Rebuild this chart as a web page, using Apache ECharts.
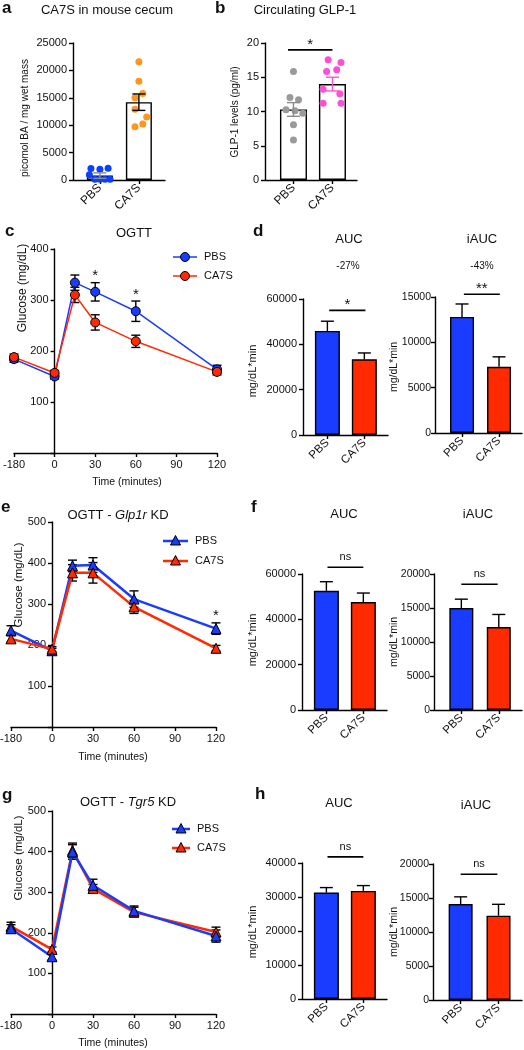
<!DOCTYPE html>
<html><head><meta charset="utf-8">
<script src="https://cdn.jsdelivr.net/npm/echarts@6/dist/echarts.min.js"></script>
<style>html,body{margin:0;padding:0;background:#fff}#chart{width:524px;height:1050px}</style>
</head><body><div id="chart"></div>
<script>
// ---------------- data ----------------
const groups = ['PBS', 'CA7S'];
const times = [-180, 0, 15, 30, 60, 120];
const timeTickLabels = {'-30': '-180', '0': '0', '30': '30', '60': '60', '90': '90', '120': '120'};

// a: CA7S in mouse cecum
const aPBS = [2100, 1950, 2150, 950, 120, 120, 120, 120];
const aCA7S = [21600, 18000, 15800, 15000, 12900, 11500, 10200, 9700];
const aMean = [800, 14200];
const aSem = [500, 1500];
const aJitterPBS = [-0.23, 0.0, 0.21, -0.27, -0.13, 0.0, 0.13, 0.26];
const aJitterCA7S = [0, 0, 0.1, -0.1, -0.1, 0.2, 0.1, -0.1];

// b: circulating GLP-1
const bPBS = [15.85, 12.05, 11.7, 10.25, 10.1, 9.75, 8.05, 5.85];
const bCA7S = [17.55, 17.15, 16.1, 15.85, 13.25, 12.6, 11.2, 11.2];
const bMean = [10.3, 14.0];
const bSem = [1.0, 1.0];
const bJitterPBS = [0, -0.09, 0.13, -0.19, 0.04, 0.24, 0, 0];
const bJitterCA7S = [-0.11, 0.22, 0.11, -0.15, -0.24, 0.19, -0.24, 0.22];

// c: OGTT
const cPBS = [184, 150, 334, 316, 278, 164];
const cPBSsem = [6, 5, 15, 18, 20, 8];
const cCA7S = [188, 157, 310, 256, 219, 159];
const cCA7Ssem = [6, 5, 15, 15, 12, 6];

// d: AUC / iAUC
const dAUC = [45900, 33400];
const dAUCsem = [4300, 2800];
const dIAUC = [12800, 7300];
const dIAUCsem = [1430, 1100];

// e: OGTT - Glp1r KD
const ePBS = [235, 186, 393, 395, 312, 240];
const ePBSsem = [12, 6, 14, 18, 20, 14];
const eCA7S = [215, 190, 376, 376, 293, 192];
const eCA7Ssem = [8, 6, 20, 25, 16, 7];

// f: AUC / iAUC
const fAUC = [52600, 47600];
const fAUCsem = [4000, 4000];
const fIAUC = [15000, 12200];
const fIAUCsem = [1300, 1850];

// g: OGTT - Tgr5 KD
const gPBS = [210, 141, 399, 317, 254, 192];
const gPBSsem = [10, 8, 18, 15, 12, 15];
const gCA7S = [216, 159, 403, 309, 251, 202];
const gCA7Ssem = [10, 6, 18, 10, 12, 12];

// h: AUC / iAUC
const hAUC = [31300, 31800];
const hAUCsem = [1470, 1560];
const hIAUC = [14100, 12400];
const hIAUCsem = [1070, 1670];

// ---------------- styles ----------------
const FONT = '"Liberation Sans", Arial, Helvetica, sans-serif';
const TXT = '#111';
const BLUE = '#1a3cff', RED = '#ff2a00';
const DOT_BLUE = '#0a40ff', DOT_ORANGE = '#ff961e', DOT_GREY = '#9a9a9a', DOT_PINK = '#ff4fd6';
const AXW = 1.4;

// axis-break: -180 is drawn one step (30) left of 0
const tx = t => (t < 0 ? -30 : t);
const T_MIN = -30, T_MAX = 120;

const grids = [
  {left: 73, top: 43, width: 92, height: 137},    // 0 a
  {left: 265, top: 43, width: 92, height: 137},   // 1 b
  {left: 14, top: 249, width: 203, height: 204},  // 2 c
  {left: 303, top: 299, width: 85, height: 136},  // 3 d AUC
  {left: 435, top: 297, width: 87, height: 136},  // 4 d iAUC
  {left: 11, top: 522, width: 205, height: 205},  // 5 e
  {left: 302, top: 574, width: 85, height: 136},  // 6 f AUC
  {left: 434, top: 574, width: 88, height: 136},  // 7 f iAUC
  {left: 11, top: 811, width: 205, height: 203},  // 8 g
  {left: 302, top: 863, width: 85, height: 136},  // 9 h AUC
  {left: 433, top: 864, width: 89, height: 136}   // 10 h iAUC
].map(gr => Object.assign({outerBoundsMode: 'none', containLabel: false}, gr));

function yAxis(gi, max, interval, timePanel, fs) {
  return {
    type: 'value', gridIndex: gi, min: 0, max: max, interval: interval,
    // time panels: the y axis sits at t = 0 (one step right of the -180 break)
    offset: timePanel ? -grids[gi].width * (0 - T_MIN) / (T_MAX - T_MIN) : 0,
    axisLine: {show: true, onZero: false, lineStyle: {color: '#000', width: AXW}},
    axisTick: {show: true, length: 4, lineStyle: {color: '#000', width: AXW}},
    axisLabel: {fontSize: fs || 11, color: TXT, fontFamily: FONT, margin: fs ? 4 : 6,
      formatter: v => (timePanel && v === 0 ? '' : String(v))},
    splitLine: {show: false}
  };
}
function catXAxis(gi, min, max, fs) {
  return {
    type: 'value', gridIndex: gi, min: min, max: max,
    axisLine: {show: true, onZero: false, lineStyle: {color: '#000', width: AXW}},
    axisTick: {show: true, customValues: [0, 1], length: 4, lineStyle: {color: '#000', width: AXW}},
    axisLabel: {show: true, customValues: [0, 1], rotate: 45, margin: 6, fontSize: fs || 11.5,
      color: TXT, fontFamily: FONT, formatter: v => groups[Math.round(v)]},
    splitLine: {show: false}
  };
}
function timeXAxis(gi) {
  return {
    type: 'value', gridIndex: gi, min: T_MIN, max: T_MAX, interval: 30,
    axisLine: {show: true, onZero: false, lineStyle: {color: '#000', width: AXW}},
    axisTick: {show: true, length: 4, lineStyle: {color: '#000', width: AXW}},
    axisLabel: {fontSize: 11, color: TXT, fontFamily: FONT, margin: 6,
      formatter: v => timeTickLabels[String(v)]},
    splitLine: {show: false}
  };
}
function errSeries(gi, xs, means, sems, cfg) {
  return {
    type: 'custom', xAxisIndex: gi, yAxisIndex: gi, z: cfg.z || 5, silent: true, clip: false,
    data: means.map((m, i) => [xs[i], m, sems[i]]),
    renderItem: (params, api) => {
      const x = api.value(0), m = api.value(1), e = api.value(2);
      const top = api.coord([x, m + e]);
      const bot = api.coord([x, cfg.oneSided ? m : m - e]);
      const hw = cfg.cap / 2;
      const col = Array.isArray(cfg.color) ? cfg.color[params.dataIndex] : cfg.color;
      const st = {stroke: col, lineWidth: cfg.width || 1.4};
      const ch = [
        {type: 'line', shape: {x1: top[0], y1: top[1], x2: bot[0], y2: bot[1]}, style: st},
        {type: 'line', shape: {x1: top[0] - hw, y1: top[1], x2: top[0] + hw, y2: top[1]}, style: st}
      ];
      if (!cfg.oneSided) ch.push({type: 'line', shape: {x1: bot[0] - hw, y1: bot[1], x2: bot[0] + hw, y2: bot[1]}, style: st});
      return {type: 'group', children: ch};
    }
  };
}
function barSeries(gi, means, colors, width) {
  return {
    type: 'bar', xAxisIndex: gi, yAxisIndex: gi, barWidth: width, z: 2,
    data: means.map((m, i) => ({value: [i, m], itemStyle: {color: colors[i]}})),
    itemStyle: {borderColor: '#000', borderWidth: 1.4}
  };
}
function dots(gi, cat, vals, jit, color) {
  return {
    type: 'scatter', xAxisIndex: gi, yAxisIndex: gi, symbolSize: 7, z: 4,
    itemStyle: {color: color, opacity: 1},
    data: vals.map((v, i) => [cat + jit[i], v])
  };
}
function lineSeries(gi, name, vals, color, symbol, size, lw) {
  return {
    type: 'line', name: name, xAxisIndex: gi, yAxisIndex: gi, z: 6,
    symbol: symbol, symbolSize: size, showAllSymbol: true,
    lineStyle: {color: color, width: lw},
    itemStyle: {color: color, borderColor: '#000', borderWidth: 1},
    data: times.map((t, i) => [tx(t), vals[i]])
  };
}
const timeX = times.map(tx);
const catIdx = [0, 1];

const xAxes = [
  catXAxis(0, -0.69, 1.67, 12),
  catXAxis(1, -0.73, 1.63, 12),
  timeXAxis(2),
  catXAxis(3, -0.66, 1.64),
  catXAxis(4, -0.73, 1.62),
  timeXAxis(5),
  catXAxis(6, -0.66, 1.64),
  catXAxis(7, -0.73, 1.62),
  timeXAxis(8),
  catXAxis(9, -0.66, 1.64),
  catXAxis(10, -0.73, 1.62)
];
const yAxes = [
  yAxis(0, 25000, 5000, false),
  yAxis(1, 20, 5, false),
  yAxis(2, 400, 100, true),
  yAxis(3, 60000, 20000, false),
  yAxis(4, 15000, 5000, false, 10.5),
  yAxis(5, 500, 100, true),
  yAxis(6, 60000, 20000, false),
  yAxis(7, 20000, 5000, false, 10.5),
  yAxis(8, 500, 100, true),
  yAxis(9, 40000, 10000, false),
  yAxis(10, 20000, 5000, false, 10.5)
];

const series = [
  // a
  barSeries(0, aMean, ['#fff', '#fff'], 26),
  dots(0, 0, aPBS, aJitterPBS, DOT_BLUE),
  dots(0, 1, aCA7S, aJitterCA7S, DOT_ORANGE),
  errSeries(0, catIdx, aMean, aSem, {cap: 13, color: ['#8a8a8a', '#000'], z: 6}),
  // b
  barSeries(1, bMean, ['#fff', '#fff'], 27),
  dots(1, 0, bPBS, bJitterPBS, DOT_GREY),
  dots(1, 1, bCA7S, bJitterCA7S, DOT_PINK),
  errSeries(1, catIdx, bMean, bSem, {cap: 13, color: ['#8a8a8a', DOT_PINK], z: 6}),
  // c
  errSeries(2, timeX, cPBS, cPBSsem, {cap: 9, color: '#000', z: 5}),
  errSeries(2, timeX, cCA7S, cCA7Ssem, {cap: 9, color: '#000', z: 5}),
  lineSeries(2, 'PBS', cPBS, BLUE, 'circle', 9, 1.5),
  lineSeries(2, 'CA7S', cCA7S, RED, 'circle', 9, 1.5),
  // d
  barSeries(3, dAUC, [BLUE, RED], 25),
  errSeries(3, catIdx, dAUC, dAUCsem, {cap: 13, color: '#000', oneSided: true}),
  barSeries(4, dIAUC, [BLUE, RED], 24),
  errSeries(4, catIdx, dIAUC, dIAUCsem, {cap: 13, color: '#000', oneSided: true}),
  // e
  errSeries(5, timeX, ePBS, ePBSsem, {cap: 9, color: '#000', z: 5}),
  errSeries(5, timeX, eCA7S, eCA7Ssem, {cap: 9, color: '#000', z: 5}),
  lineSeries(5, 'PBS', ePBS, BLUE, 'triangle', 10, 2.5),
  lineSeries(5, 'CA7S', eCA7S, RED, 'triangle', 10, 2.5),
  // f
  barSeries(6, fAUC, [BLUE, RED], 25),
  errSeries(6, catIdx, fAUC, fAUCsem, {cap: 13, color: '#000', oneSided: true}),
  barSeries(7, fIAUC, [BLUE, RED], 24),
  errSeries(7, catIdx, fIAUC, fIAUCsem, {cap: 13, color: '#000', oneSided: true}),
  // g
  errSeries(8, timeX, gPBS, gPBSsem, {cap: 9, color: '#000', z: 5}),
  errSeries(8, timeX, gCA7S, gCA7Ssem, {cap: 9, color: '#000', z: 5}),
  lineSeries(8, 'CA7S', gCA7S, RED, 'triangle', 10, 2.5),
  lineSeries(8, 'PBS', gPBS, BLUE, 'triangle', 10, 2.5),
  // h
  barSeries(9, hAUC, [BLUE, RED], 25),
  errSeries(9, catIdx, hAUC, hAUCsem, {cap: 13, color: '#000', oneSided: true}),
  barSeries(10, hIAUC, [BLUE, RED], 24),
  errSeries(10, catIdx, hIAUC, hIAUCsem, {cap: 13, color: '#000', oneSided: true})
];

const chart = echarts.init(document.getElementById('chart'), null, {renderer: 'canvas'});
chart.setOption({
  animation: false,
  backgroundColor: '#fff',
  textStyle: {fontFamily: FONT},
  grid: grids, xAxis: xAxes, yAxis: yAxes, series: series
});

// ---------------- annotations ----------------
const g = [];
function txt(text, x, y, fs, opts) {
  opts = opts || {};
  g.push({type: 'text', x: x, y: y, rotation: opts.rot || 0, z: 50,
    style: {text: text, fontSize: fs, fontFamily: FONT, fill: TXT,
      fontWeight: opts.bold ? 'bold' : 'normal',
      align: opts.align || 'center', verticalAlign: 'middle', rich: opts.rich}});
}
// panel letters
[['a', 2, 8], ['b', 215, 8], ['c', 5, 231], ['d', 253, 231], ['e', 1, 507], ['f', 251, 507], ['g', 2, 795], ['h', 255, 794]]
  .forEach(l => txt(l[0], l[1], l[2], 17, {bold: true, align: 'left'}));
// titles
txt('CA7S in mouse cecum', 107, 10, 13);
txt('Circulating GLP-1', 305, 10, 13);
txt('OGTT', 134, 233, 13);
txt('AUC', 349, 239, 13);
txt('iAUC', 482, 239, 13);
txt('-27%', 348, 266, 10);
txt('-43%', 482, 266, 10);
const rich = {n: {fontSize: 13, fontFamily: FONT, fill: TXT}, i: {fontSize: 13, fontFamily: FONT, fontStyle: 'italic', fill: TXT}};
txt('{n|OGTT - }{i|Glp1r}{n| KD}', 118, 515, 13, {rich: rich});
txt('AUC', 344, 514, 13);
txt('iAUC', 478, 514, 13);
txt('{n|OGTT - }{i|Tgr5}{n| KD}', 128, 802, 13, {rich: rich});
txt('AUC', 339, 803, 13);
txt('iAUC', 476, 805, 13);
// axis names
const R = Math.PI / 2;
[['picomol BA / mg wet mass', 25, 118, 10], ['GLP-1 levels (pg/ml)', 235, 112, 10],
 ['Glucose (mg/dL)', 23, 288, 12], ['mg/dL*min', 253, 371, 11], ['mg/dL*min', 394, 367, 10.5],
 ['Glucose (mg/dL)', 19, 585, 11.5], ['mg/dL*min', 253, 640, 11], ['mg/dL*min', 394, 642, 10.5],
 ['Glucose (mg/dL)', 19, 858, 11.5], ['mg/dL*min', 253, 932, 11], ['mg/dL*min', 394, 932, 10.5]]
  .forEach(n => txt(n[0], n[1], n[2], n[3], {rot: R}));
txt('Time (minutes)', 127, 482, 10.5);
txt('Time (minutes)', 113, 757, 10.5);
txt('Time (minutes)', 113, 1043, 10.5);

// legends
function legend(x1, x2, y, color, sym, label, lw) {
  const cx = (x1 + x2) / 2;
  g.push({type: 'line', z: 50, shape: {x1: x1, y1: y, x2: x2, y2: y}, style: {stroke: color, lineWidth: lw}});
  if (sym === 'circle') g.push({type: 'circle', z: 51, shape: {cx: cx, cy: y, r: 4.5}, style: {fill: color, stroke: '#000', lineWidth: 1}});
  else g.push({type: 'polygon', z: 51, shape: {points: [[cx, y - 5.5], [cx + 5, y + 4], [cx - 5, y + 4]]}, style: {fill: color, stroke: '#000', lineWidth: 1}});
  txt(label, x2 + 7, y, 11, {align: 'left'});
}
legend(173, 197, 257, BLUE, 'circle', 'PBS', 1.5);
legend(173, 197, 276, RED, 'circle', 'CA7S', 1.5);
legend(163, 188, 541, BLUE, 'triangle', 'PBS', 2.5);
legend(163, 188, 561, RED, 'triangle', 'CA7S', 2.5);
legend(172, 190, 829, BLUE, 'triangle', 'PBS', 2.5);
legend(172, 190, 848, RED, 'triangle', 'CA7S', 2.5);

// significance brackets (data coords)
const sig = [
  {gi: 1, x0: -0.14, x1: 1.0, y: 19, label: '*'},
  {gi: 3, x0: 0.05, x1: 1.03, y: 55000, label: '*'},
  {gi: 4, x0: 0.05, x1: 1.02, y: 15300, label: '**'},
  {gi: 6, x0: 0.03, x1: 1.0, y: 63000, label: 'ns'},
  {gi: 7, x0: 0.0, x1: 0.97, y: 18500, label: 'ns'},
  {gi: 9, x0: 0.03, x1: 1.0, y: 41800, label: 'ns'},
  {gi: 10, x0: 0.0, x1: 0.97, y: 18500, label: 'ns'}
];
sig.forEach(s => {
  const p0 = chart.convertToPixel({gridIndex: s.gi}, [s.x0, s.y]);
  const p1 = chart.convertToPixel({gridIndex: s.gi}, [s.x1, s.y]);
  g.push({type: 'line', z: 50, shape: {x1: p0[0], y1: p0[1], x2: p1[0], y2: p1[1]}, style: {stroke: '#000', lineWidth: 1.6}});
  const cx = (p0[0] + p1[0]) / 2;
  if (s.label === 'ns') txt('ns', cx, p0[1] - 10, 11);
  else txt(s.label, cx, p0[1] - 5, 15);
});
// stars over time points
const stars = [{gi: 2, t: 30, y: 355}, {gi: 2, t: 60, y: 316}, {gi: 5, t: 120, y: 279}];
stars.forEach(s => {
  const p = chart.convertToPixel({gridIndex: s.gi}, [tx(s.t), s.y]);
  txt('*', p[0], p[1] + 3.5, 15);
});

chart.setOption({graphic: g});
</script></body></html>
